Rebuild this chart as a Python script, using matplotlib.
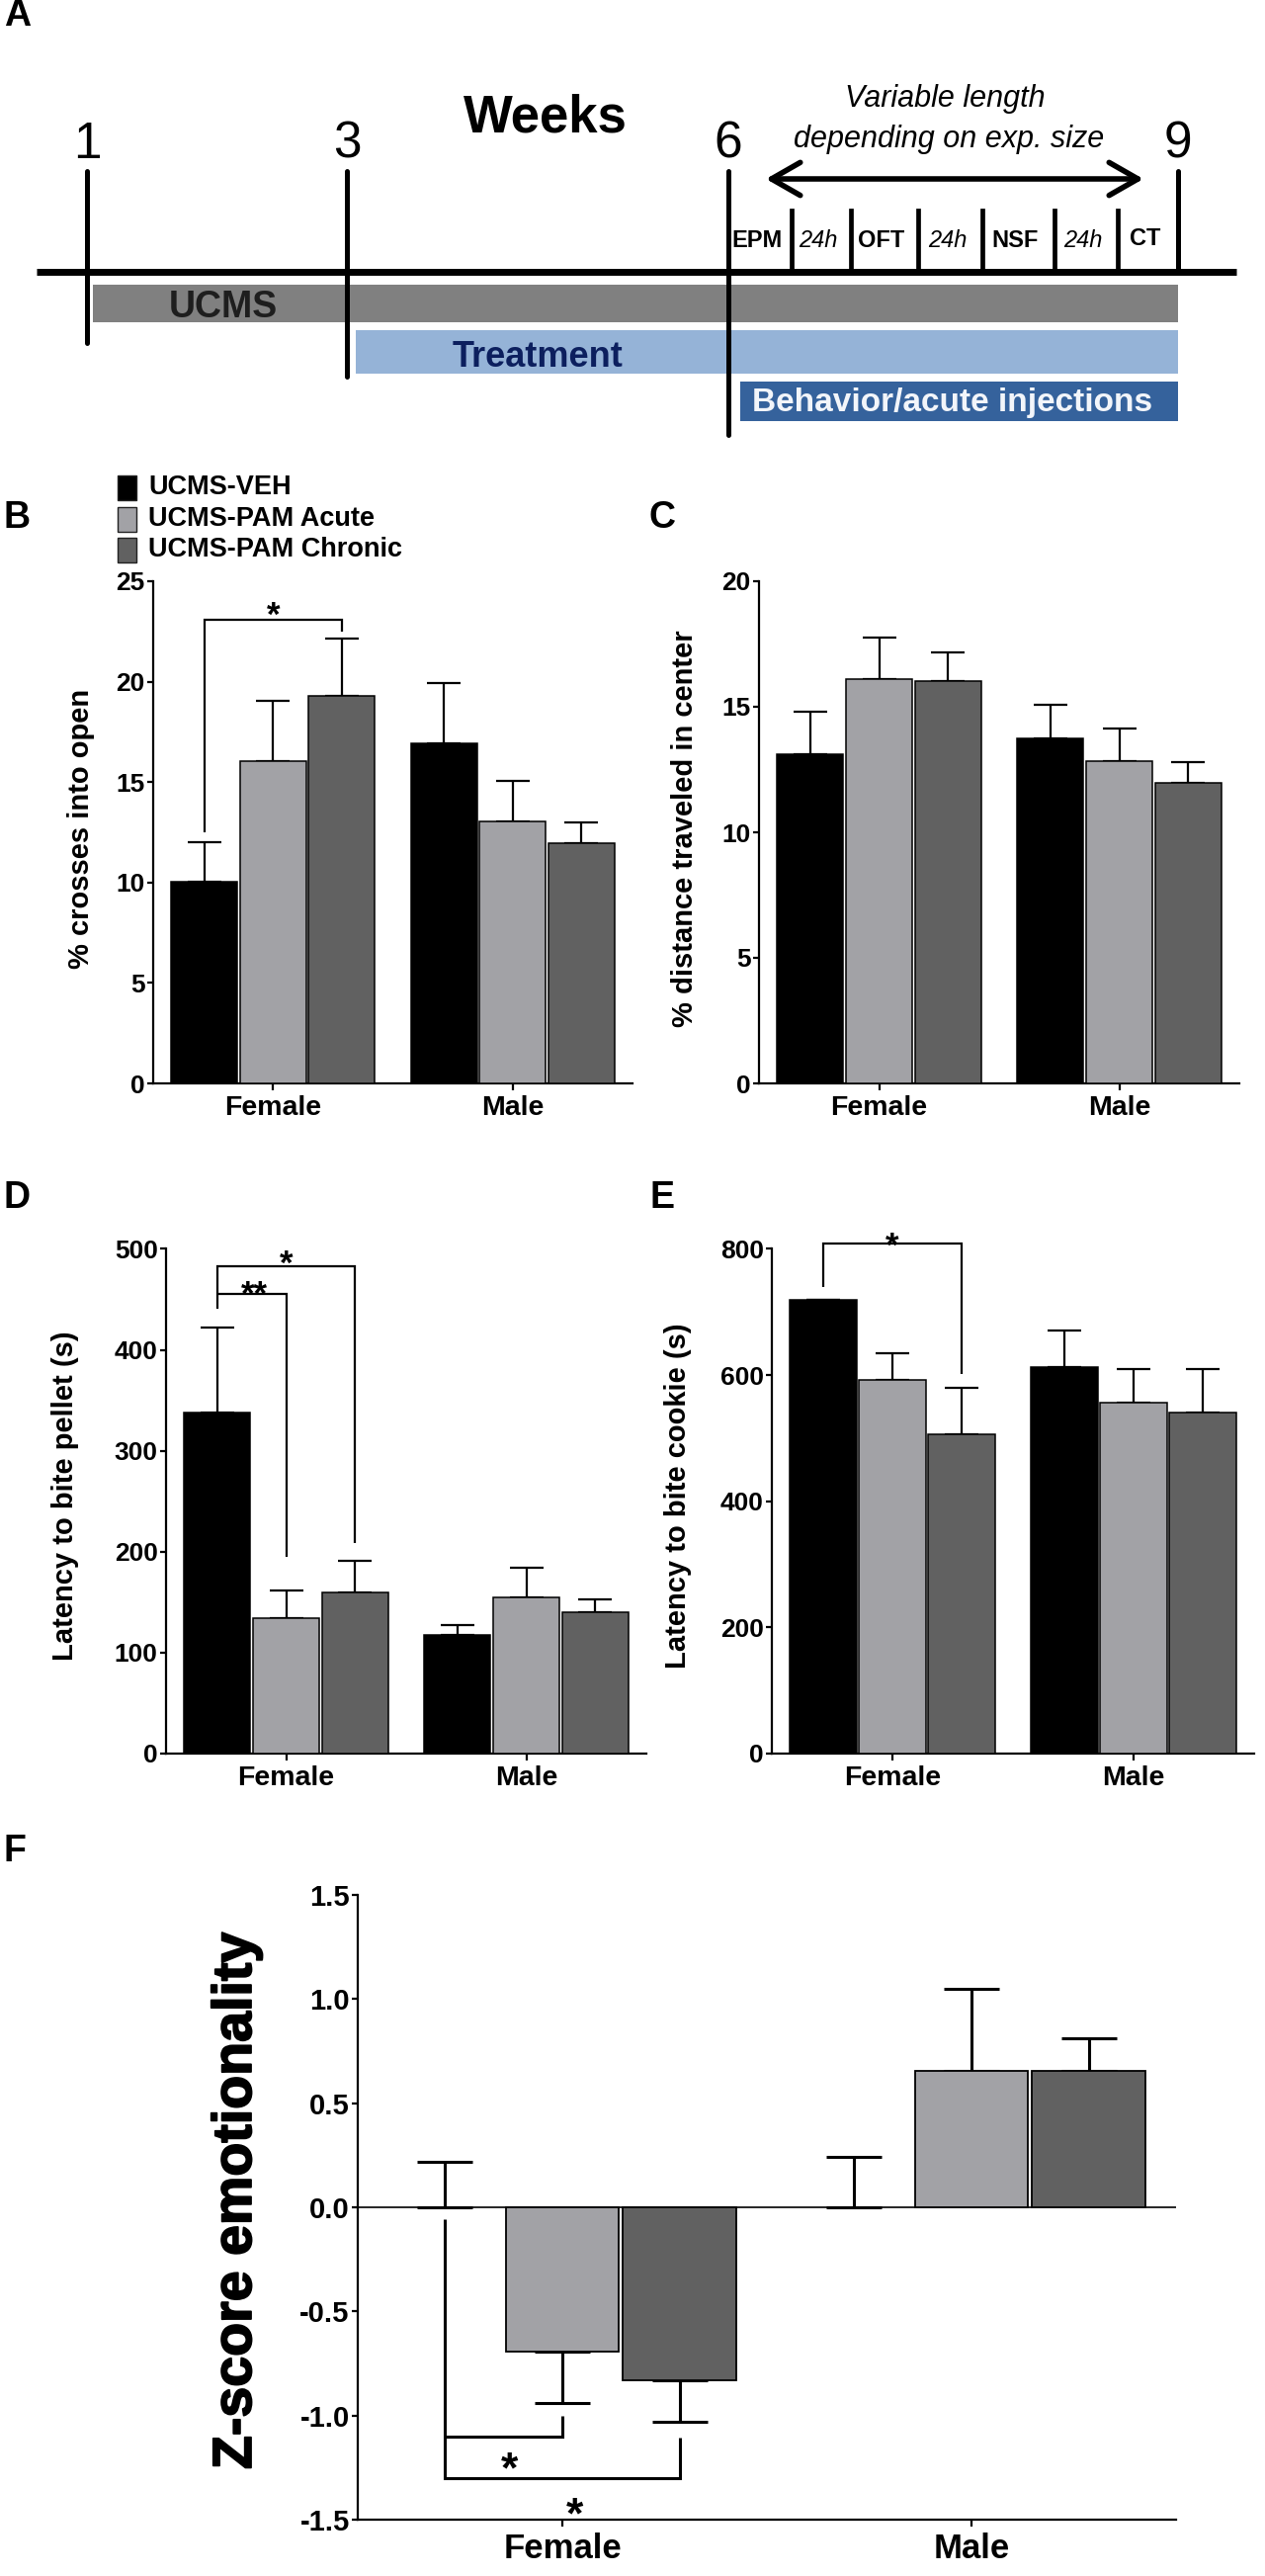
import matplotlib
matplotlib.use('Agg')
import matplotlib.pyplot as plt
import matplotlib.patheffects as pe
import numpy as np
from matplotlib.patches import Rectangle
from matplotlib import font_manager as fm

# ---------------- data ----------------
groups = ['Female', 'Male']
series = ['UCMS-VEH', 'UCMS-PAM Acute', 'UCMS-PAM Chronic']

# rows: Female, Male ; columns: VEH, Acute, Chronic
b_mean = [[10.05, 16.03, 19.28], [16.91, 13.06, 11.96]]
b_sem = [[1.98, 3.03, 2.88], [3.03, 2.02, 1.01]]
c_mean = [[13.12, 16.10, 16.04], [13.74, 12.82, 11.98]]
c_sem = [[1.69, 1.67, 1.13], [1.35, 1.32, 0.83]]
d_mean = [[337.7, 133.7, 159.2], [117.4, 154.8, 139.4]]
d_sem = [[84.3, 27.7, 31.2], [9.6, 29.5, 13.2]]
e_mean = [[719.2, 592.5, 506.7], [613.0, 556.6, 541.2]]
e_sem = [[0.0, 41.5, 73.2], [57.0, 52.8, 68.8]]
f_mean = [[0.0, -0.694, -0.832], [0.0, 0.655, 0.657]]
f_sem = [[0.22, 0.245, 0.197], [0.242, 0.395, 0.155]]

b_ticks = [0, 5, 10, 15, 20, 25]
c_ticks = [0, 5, 10, 15, 20]
d_ticks = [0, 100, 200, 300, 400, 500]
e_ticks = [0, 200, 400, 600, 800]
f_ticks = [-1.5, -1.0, -0.5, 0.0, 0.5, 1.0, 1.5]
f_ticklabels = ['-1.5', '-1.0', '-0.5', '0.0', '0.5', '1.0', '1.5']

# significance brackets (y values in data units)
b_sig = {'left': (12.5, 23.08), 'right_end': 22.5, 'star_y': 23.75}
d_sig = {'left': (440.6, 482.9), 'right_end': 208.9, 'inner_y': 455.1,
         'inner_end': 194.4, 'star_y': 494.7, 'dstar_y': 464.0}
e_sig = {'left': (739.0, 807.9), 'right_end': 601.7, 'star_y': 820.0}
f_sig = {'left': (-0.059, -1.303), 'right_end': -1.108, 'inner_y': -1.10,
         'inner_end': -1.0, 'star1_y': -1.20, 'star2_y': -1.42}

# timeline (panel A)
week_labels = ['1', '3', '6', '9']
step_labels = ['EPM', '24h', 'OFT', '24h', 'NSF', '24h', 'CT']
phase_labels = ['UCMS', 'Treatment', 'Behavior/acute injections']

# ---------------- style ----------------
def has_font(name):
    try:
        fm.findfont(fm.FontProperties(family=name), fallback_to_default=False)
        return True
    except Exception:
        return False

plt.rcParams['font.family'] = ['Liberation Sans', 'DejaVu Sans']
NARROW = has_font('Liberation Sans Narrow')

W, H = 1280, 2606
fig = plt.figure(figsize=(W / 100, H / 100), dpi=100)
fig.patch.set_facecolor('white')

colors = ['#000000', '#A2A2A6', '#616161']
OFF = 0.287
BW = 0.277


def axes_px(l, t, r, b):
    ax = fig.add_axes([l / W, 1 - b / H, (r - l) / W, (b - t) / H])
    ax.set_facecolor('none')
    return ax


def draw_bars(ax, mean, sem, capsize, elw, edge_lw):
    mean = np.array(mean)
    sem = np.array(sem)
    xc = np.arange(len(groups))
    for i in range(len(series)):
        x = xc + (i - 1) * OFF
        v = mean[:, i]
        e = sem[:, i]
        lws = np.where(v == 0, 0.0, edge_lw)
        ax.bar(x, v, BW, color=colors[i], edgecolor='black',
               linewidth=lws, zorder=3)
        up = np.where(v >= 0, e, 0)
        dn = np.where(v >= 0, 0, e)
        ax.errorbar(x, v, yerr=[dn, up], fmt='none', ecolor='black',
                    elinewidth=elw, capsize=capsize, capthick=elw, zorder=2)


def style(ax, ylim, yticks, yticklabels, fs_y, fs_x, ylen=4, xlen=5):
    ax.set_xlim(-0.5, 1.5)
    ax.set_ylim(*ylim)
    ax.set_yticks(yticks)
    ax.set_yticklabels(yticklabels)
    ax.set_xticks([0, 1])
    ax.set_xticklabels(groups)
    for s in ['top', 'right']:
        ax.spines[s].set_visible(False)
    for s in ['left', 'bottom']:
        ax.spines[s].set_linewidth(1.6)
    ax.tick_params(axis='y', length=ylen, width=1.6, pad=2, labelsize=fs_y)
    ax.tick_params(axis='x', length=xlen, width=1.6, pad=4, labelsize=fs_x)
    for lab in ax.get_xticklabels() + ax.get_yticklabels():
        lab.set_fontweight('bold')


def line(ax, xs, ys, lw):
    ax.plot(xs, ys, color='black', lw=lw, solid_joinstyle='miter',
            solid_capstyle='butt', clip_on=False, zorder=4)


def star(ax, x, y, s, fs):
    ax.annotate(s, (x, y), xytext=(0, -0.57 * fs), textcoords='offset points',
                ha='center', va='baseline', fontsize=fs, fontweight='bold',
                annotation_clip=False, zorder=5)


# ---------------- panel B ----------------
axB = axes_px(155, 588, 640, 1096)
draw_bars(axB, b_mean, b_sem, 12, 1.6, 1.1)
style(axB, (0, 25), b_ticks, [str(t) for t in b_ticks], 19, 20.5)
line(axB, [-OFF, -OFF, OFF, OFF], [b_sig['left'][0], b_sig['left'][1],
                                   b_sig['left'][1], b_sig['right_end']], 1.6)
star(axB, 0, b_sig['star_y'], '*', 25)

# ---------------- panel C ----------------
axC = axes_px(768, 588, 1254, 1096)
draw_bars(axC, c_mean, c_sem, 12, 1.6, 1.1)
style(axC, (0, 20), c_ticks, [str(t) for t in c_ticks], 19, 20.5)

# ---------------- panel D ----------------
axD = axes_px(168, 1263.5, 654, 1773.7)
draw_bars(axD, d_mean, d_sem, 12, 1.6, 1.1)
style(axD, (0, 500), d_ticks, [str(t) for t in d_ticks], 19, 20.5)
line(axD, [-OFF, -OFF, OFF, OFF], [d_sig['left'][0], d_sig['left'][1],
                                   d_sig['left'][1], d_sig['right_end']], 1.6)
line(axD, [-OFF, 0, 0], [d_sig['inner_y'], d_sig['inner_y'], d_sig['inner_end']], 1.6)
star(axD, 0, d_sig['star_y'], '*', 25)
star(axD, -0.13, d_sig['dstar_y'], '**', 25)

# ---------------- panel E ----------------
axE = axes_px(781, 1263.5, 1269, 1773.7)
draw_bars(axE, e_mean, e_sem, 12, 1.6, 1.1)
style(axE, (0, 800), e_ticks, [str(t) for t in e_ticks], 19, 20.5)
line(axE, [-OFF, -OFF, OFF, OFF], [e_sig['left'][0], e_sig['left'][1],
                                   e_sig['left'][1], e_sig['right_end']], 1.6)
star(axE, 0, e_sig['star_y'], '*', 25)

# ---------------- panel F ----------------
axF = axes_px(362, 1917, 1190, 2549)
axF.axhline(0, color='black', lw=1.2, zorder=1)
draw_bars(axF, f_mean, f_sem, 20, 2.2, 1.3)
style(axF, (-1.5, 1.5), f_ticks, f_ticklabels, 21, 25, ylen=4, xlen=5)
line(axF, [-OFF, -OFF, OFF, OFF], [f_sig['left'][0], f_sig['left'][1],
                                   f_sig['left'][1], f_sig['right_end']], 2.2)
line(axF, [-OFF, 0, 0], [f_sig['inner_y'], f_sig['inner_y'], f_sig['inner_end']], 2.2)
star(axF, -0.13, f_sig['star1_y'], '*', 32)
star(axF, 0.03, f_sig['star2_y'], '*', 32)

# ---------------- overlay (pixel coordinates) ----------------
ov = fig.add_axes([0, 0, 1, 1])
ov.set_xlim(0, W)
ov.set_ylim(H, 0)
ov.axis('off')

# panel letters
for lab, x, y in [('A', 4, 16), ('B', 4, 524), ('C', 656, 524),
                  ('D', 4, 1212), ('E', 658, 1212), ('F', 4, 1873)]:
    ov.text(x, y, lab, fontsize=27, fontweight='bold', ha='left', va='center')

# legend (panel B)
for i, (name, y) in enumerate(zip(series, [493.5, 525, 556])):
    ov.add_patch(Rectangle((119, y - 12.5), 19, 25, facecolor=colors[i],
                           edgecolor='#222222', lw=1.0))
    ov.text(150, y, name, fontsize=19.5, fontweight='bold', ha='left', va='center')

# y-axis labels
ylabels = [('% crosses into open', 82, 838, 21),
           ('% distance traveled in center', 693, 838, 21),
           ('Latency to bite pellet (s)', 66, 1513, 21),
           ('Latency to bite cookie (s)', 686, 1513, 21)]
for txt, x, y, fs in ylabels:
    ov.text(x, y, txt, rotation=90, ha='center', va='center',
            fontsize=fs, fontweight='bold')
ov.text(240, 2227, 'Z-score emotionality', rotation=90, ha='center',
        va='center', fontsize=40, fontweight='bold',
        path_effects=[pe.withStroke(linewidth=1.3, foreground='black')])

# ---------------- panel A: timeline ----------------
week_x = [88, 351, 737, 1192]
week_bottom = [347, 381, 440, 275]
main_y = 275

# phase bars
phase_boxes = [(94, 288, 1192, 326, '#808080'),
               (360, 334, 1192, 378, '#95B3D7'),
               (749, 386, 1192, 426, '#35629C')]
for (x0, y0, x1, y1, c) in phase_boxes:
    ov.add_patch(Rectangle((x0, y0), x1 - x0, y1 - y0, facecolor=c,
                           edgecolor='none', zorder=1))
ov.text(226, 321, phase_labels[0], fontsize=27, fontweight='bold',
        color='#1E1E1E', ha='center', va='baseline', zorder=2)
ov.text(544, 371, phase_labels[1], fontsize=26, fontweight='bold',
        color='#0C1F5E', ha='center', va='baseline', zorder=2)
ov.text(964, 416, phase_labels[2], fontsize=24, fontweight='bold',
        color='#F2F5FA', ha='center', va='baseline', zorder=2)

# main line and week lines
ov.plot([37, 1251], [main_y, main_y], color='black', lw=5, zorder=3,
        solid_capstyle='butt')
for x, yb, lab in zip(week_x, week_bottom, week_labels):
    ov.plot([x, x], [173, yb], color='black', lw=3.6, zorder=3,
            solid_capstyle='round')
    ov.text(x, 160, lab, fontsize=37, ha='center', va='baseline', zorder=3)

ov.text(552, 133, 'Weeks', fontsize=38, fontweight='bold', ha='center',
        va='baseline')
ov.text(956, 108, 'Variable length', fontsize=22, style='italic',
        ha='center', va='baseline')
ov.text(960, 149, 'depending on exp. size', fontsize=22, style='italic',
        ha='center', va='baseline')

# double arrow
ov.annotate('', xy=(1157, 181), xytext=(775, 181),
            arrowprops=dict(arrowstyle='<->,head_length=1.05,head_width=0.6',
                            lw=4, color='black', shrinkA=0, shrinkB=0,
                            mutation_scale=20))

# step dividers and labels
div_x = [801, 861, 929, 994, 1067, 1131]
for x in div_x:
    ov.plot([x, x], [213, main_y], color='black', lw=3.4, zorder=3)
bounds = [week_x[2]] + div_x + [week_x[3]]
if NARROW:
    sfam, sfs = 'Liberation Sans Narrow', 21
else:
    sfam, sfs = 'Liberation Sans', 17
for i, lab in enumerate(step_labels):
    cx = (bounds[i] + bounds[i + 1]) / 2 - 3
    if lab == '24h':
        ov.text(cx, 250, lab, fontsize=sfs, style='italic', family=sfam,
                ha='center', va='baseline')
    else:
        ov.text(cx, 250 if lab != 'CT' else 248, lab, fontsize=sfs,
                fontweight='bold', family=sfam, ha='center', va='baseline')

fig.savefig('out.png', dpi=100, facecolor='white')
